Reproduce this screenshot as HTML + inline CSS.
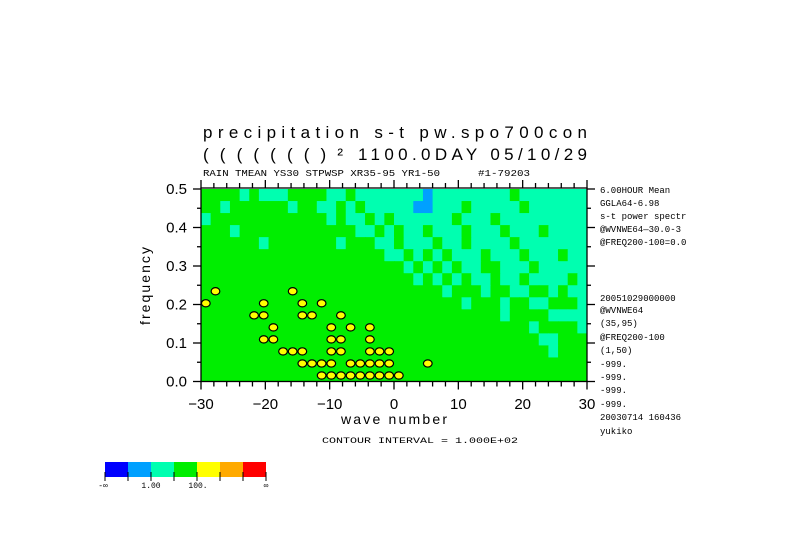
<!DOCTYPE html>
<html><head><meta charset="utf-8"><style>
html,body{margin:0;padding:0;background:#fff;}
svg{display:block;}
text{font-family:"Liberation Mono","DejaVu Sans Mono",monospace;fill:#000;}
.t{font-family:"Liberation Sans","DejaVu Sans",sans-serif;}
</style></head><body>
<svg id="chart" width="789" height="558" viewBox="0 0 789 558" xmlns="http://www.w3.org/2000/svg">
<g id="cells"></g>
<g id="axes"></g>
<text class="t" x="203" y="138" font-size="17" textLength="384" lengthAdjust="spacing">precipitation s-t pw.spo700con</text>
<text class="t" x="203" y="160" font-size="17" textLength="140" lengthAdjust="spacing">((((((()²</text>
<text class="t" x="358" y="160" font-size="17" textLength="229" lengthAdjust="spacing">1100.0DAY 05/10/29</text>
<text x="203" y="176" font-size="9" textLength="237" lengthAdjust="spacingAndGlyphs">RAIN TMEAN YS30 STPWSP XR35-95 YR1-50</text>
<text x="478" y="176" font-size="9" textLength="52" lengthAdjust="spacingAndGlyphs">#1-79203</text>
<text class="t" x="394" y="424" font-size="14" text-anchor="middle" textLength="106" lengthAdjust="spacing">wave number</text>
<text class="t" transform="translate(150,286) rotate(-90)" font-size="14" text-anchor="middle" textLength="78" lengthAdjust="spacing">frequency</text>
<text x="322" y="443" font-size="8" textLength="196" lengthAdjust="spacingAndGlyphs">CONTOUR INTERVAL = 1.000E+02</text>
<g id="side"></g>
<g id="cbar"></g>
</svg>
<script>
const NS="http://www.w3.org/2000/svg";
// level rows, top (freq 0.5) to bottom (freq 0); columns wave -30..30
const gridRows=[
"3333232223333223222222212222222232222222",
"3323333332332232322222112223222223222222",
"2333333333333232232322222232223222222222",
"3332333333333333223232232223222322232222",
"3333332333333323332232223223222232222222",
"3333333333333333333223232322232223222322",
"3333333333333333333332323232233222322222",
"3333333333333333333333232323223223222232",
"3433333334333333333333333233323322332322",
"4333334333434333333333333332333233223332",
"3333344333443343333333333333333233332222",
"3333333433333434343333333333333333233332",
"3333334433333443343333333333333333322333",
"3333333344433443344433333333333333332333",
"3333333333444434444433343333333333333333",
"3333333333334444444443333333333333333333"];
const xTicks=[-30,-20,-10,0,10,20,30];
const yTicks=[0.0,0.1,0.2,0.3,0.4,0.5];
const levelColors=["#0000ff","#00a0ff","#00ffb0","#00ee00","#ffff00","#ffaa00","#ff0000"];
const sideLines=[["6.00HOUR Mean",190],["GGLA64-6.98",203],["s-t power spectr",216],["@WVNWE64\u201430.0-3",229],["@FREQ200-100=0.0",242],["20051029000000",298],["@WVNWE64",310],["(35,95)",323],["@FREQ200-100",337],["(1,50)",350],["-999.",364],["-999.",377],["-999.",390],["-999.",404],["20030714 160436",417],["yukiko",431]];
const X0=201,X1=587,Y0=381.5,Y1=189;
const xs=v=>X0+(v+30)/60*(X1-X0);
const ys=v=>Y0+(v-0)/0.5*(Y1-Y0);
function mk(t,a,p){const e=document.createElementNS(NS,t);for(const k in a)e.setAttribute(k,a[k]);p.appendChild(e);return e;}
const cells=document.getElementById('cells');
const nR=gridRows.length,nC=gridRows[0].length;
gridRows.forEach((row,r)=>{for(let c=0;c<nC;c++){
 const lv=+row[c];
 const xa=xs(-30+c*60/nC),xb=xs(-30+(c+1)*60/nC);
 const ya=ys(0.5-r*0.5/nR),yb=ys(0.5-(r+1)*0.5/nR);
 const el=mk('rect',{x:xa,y:ya,width:xb-xa+0.5,height:yb-ya+0.5,fill:levelColors[lv===4?3:lv]},cells);
 
 
}});
// yellow blobs with contour outlines
gridRows.forEach((row,r)=>{for(let c=0;c<nC;c++){if(row[c]==='4'){
 const xa=xs(-30+c*60/nC),xb=xs(-30+(c+1)*60/nC);
 const ya=ys(0.5-r*0.5/nR),yb=ys(0.5-(r+1)*0.5/nR);
 const el=mk('ellipse',{cx:(xa+xb)/2,cy:(ya+yb)/2,rx:(xb-xa)*0.45,ry:(yb-ya)*0.3,fill:levelColors[4],stroke:'#000','stroke-width':1.2},cells);
 
 
}}});
const ax=document.getElementById('axes');
const st={stroke:'#000','stroke-width':1.3};
mk('rect',{x:X0,y:Y1-1,width:X1-X0,height:Y0-Y1+1,fill:'none',stroke:'#000','stroke-width':1.3},ax);
for(let v=-30;v<=30;v+=2){const maj=v%10===0;const x=xs(v);
 mk('line',Object.assign({x1:x,x2:x,y1:Y0,y2:Y0+(maj?8:5)},st),ax);
 mk('line',Object.assign({x1:x,x2:x,y1:Y1-1,y2:Y1-1-(maj?8:5)},st),ax);}
for(let i=0;i<=10;i++){const v=i*0.05;const maj=i%2===0;const y=ys(v);
 mk('line',Object.assign({x1:X0,x2:X0-(maj?8:4),y1:y,y2:y},st),ax);
 mk('line',Object.assign({x1:X1,x2:X1+(maj?8:4),y1:y,y2:y},st),ax);}
xTicks.forEach(v=>{const t=mk('text',{x:xs(v),y:409,'font-size':15,'text-anchor':'middle',class:'t'},ax);t.textContent=(v<0?'\u2212':'')+Math.abs(v);
 
 });
yTicks.forEach(v=>{const t=mk('text',{x:187,y:ys(v)+5,'font-size':15,'text-anchor':'end',class:'t'},ax);t.textContent=v.toFixed(1);
 
 });
const side=document.getElementById('side');
sideLines.forEach(([s,y])=>{const t=mk('text',{x:600,y:y+3,'font-size':9},side);t.textContent=s;
 
 });
const cb=document.getElementById('cbar');
levelColors.forEach((c,i)=>{const el=mk('rect',{x:105+i*23,y:462,width:23,height:15,fill:c},cb);
 
 
 mk('line',{x1:105+i*23,x2:105+i*23,y1:472,y2:481,stroke:'#000'},cb);});
mk('line',{x1:266,x2:266,y1:472,y2:481,stroke:'#000'},cb);
[["-\u221e",103],["1.00",151],["100.",198],["\u221e",266]].forEach(([s,x])=>{const t=mk('text',{x:x,y:488,'font-size':8,'text-anchor':'middle'},cb);t.textContent=s;
 
 });
</script>
</body></html>
